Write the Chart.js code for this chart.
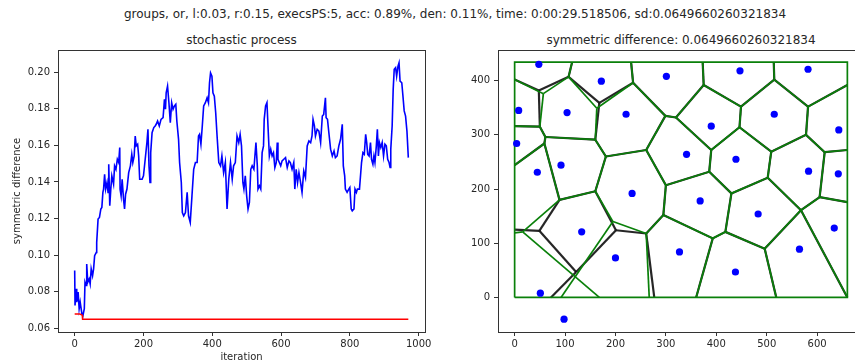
<!DOCTYPE html>
<html>
<head>
<meta charset="utf-8">
<script src="https://cdn.jsdelivr.net/npm/chart.js@4.4.1/dist/chart.umd.min.js"></script>
<style>
  html, body { margin: 0; padding: 0; background: #fff; width: 855px; height: 363px; overflow: hidden; }
  body { position: relative; font-family: "DejaVu Sans", sans-serif; color: #262626; }
  .txt { position: absolute; white-space: nowrap; font-size: 12px; text-align: center; line-height: 14px; }
  canvas { position: absolute; top: 0; }
</style>
</head>
<body>
<div class="txt" style="left:0;width:910px;top:7px;">groups, or, l:0.03, r:0.15, execsPS:5, acc: 0.89%, den: 0.11%, time: 0:00:29.518506, sd:0.0649660260321834</div>
<div class="txt" style="left:0;width:483px;top:33px;">stochastic process</div>
<div class="txt" style="left:498px;width:366px;top:33px;">symmetric difference: 0.0649660260321834</div>
<canvas id="process" width="440" height="363" style="left:0"></canvas>
<canvas id="cells" width="440" height="363" style="left:440px"></canvas>
<script>
// ---- left panel: stochastic process ----
const iterations = [0,1,4,6,10,13,16,21,24,28,30,33,35,38,42,45,48,52,55,58,63,64,68,72,76,79,82,84,87,90,94,97,99,102,105,108,113,116,120,124,128,131,132,135,138,142,145,148,152,157,162,166,169,173,176,179,183,186,189,196,200,205,210,213,216,219,221,225,230,234,237,241,246,251,257,261,264,266,270,274,278,282,286,290,294,297,302,305,310,313,317,322,327,331,336,341,346,351,356,360,363,367,371,375,380,385,389,392,395,399,402,406,410,414,419,424,428,433,438,443,448,453,458,462,467,
  472,477,481,485,489,492,496,500,504,508,512,516,521,524,527,531,533,537,541,545,549,551,555,559,562,566,570,574,578,582,586,589,591,595,599,603,608,613,618,623,627,632,637,640,644,648,652,656,661,666,671,676,681,686,690,693,697,700,705,710,715,720,724,729,731,735,739,744,749,754,758,763,768,773,778,781,785,787,792,797,800,804,807,812,815,819,822,828,834,838,842,846,849,852,856,860,863,867,870,873,877,880,883,886,890,894,898,902,906,910,914,917,919,923,926,929,933,936,940,943,946,951,954,958,962,966,970];
const sdValues = [0.0916,0.0725,0.0816,0.0743,0.0798,0.0707,0.0743,0.0679,0.0670,0.0707,0.0852,0.0834,0.0952,0.0852,0.0870,0.0843,0.0925,0.0888,0.0925,0.0997,0.1015,0.1070,0.1197,0.1206,0.1252,0.1261,0.1343,0.1361,0.1442,0.1361,0.1397,0.1343,0.1497,0.1270,0.1361,0.1433,0.1388,0.1488,0.1469,0.1524,0.1506,0.1588,0.1361,0.1324,0.1415,0.1306,0.1252,0.1333,0.1361,0.1451,0.1488,0.1551,0.1506,0.1542,0.1651,0.1597,0.1606,0.1542,0.1415,0.1415,0.1433,0.1524,0.1615,0.1688,0.1488,0.1397,0.1560,0.1669,0.1697,0.1706,0.1715,0.1733,0.1706,0.1742,0.1751,0.1851,0.1797,0.1887,0.1924,0.1833,0.1724,0.1833,0.1797,0.1815,0.1824,0.1733,0.1633,0.1506,0.1397,0.1233,0.1215,0.1233,0.1343,0.1215,0.1179,0.1324,0.1469,0.1506,0.1506,0.1651,0.1660,0.1606,0.1706,0.1815,0.1833,0.1860,0.1833,0.1942,0.1996,0.1978,0.1887,0.1869,0.1778,0.1651,0.1506,0.1488,0.1542,0.1451,0.1506,0.1252,0.1415,0.1506,0.1415,0.1488,0.1506,
  0.1651,0.1615,0.1660,0.1597,0.1397,0.1361,0.1433,0.1324,0.1252,0.1288,0.1469,0.1488,0.1469,0.1542,0.1615,0.1488,0.1361,0.1379,0.1361,0.1560,0.1597,0.1742,0.1815,0.1833,0.1706,0.1542,0.1579,0.1542,0.1560,0.1479,0.1506,0.1615,0.1524,0.1506,0.1488,0.1515,0.1524,0.1533,0.1479,0.1515,0.1506,0.1469,0.1506,0.1361,0.1469,0.1397,0.1451,0.1406,0.1343,0.1460,0.1424,0.1597,0.1624,0.1615,0.1651,0.1742,0.1706,0.1651,0.1688,0.1678,0.1615,0.1760,0.1769,0.1860,0.1751,0.1742,0.1669,0.1579,0.1542,0.1569,0.1533,0.1542,0.1597,0.1633,0.1715,0.1488,0.1433,0.1361,0.1343,0.1361,0.1370,0.1252,0.1242,0.1252,0.1361,0.1343,0.1361,0.1361,0.1506,0.1560,0.1551,0.1660,0.1615,0.1551,0.1542,0.1615,0.1524,0.1497,0.1542,0.1506,0.1597,0.1688,0.1542,0.1615,0.1588,0.1615,0.1542,0.1606,0.1597,0.1524,0.1506,0.1479,0.1579,0.1706,0.1906,0.2015,0.2024,0.1978,0.2033,0.2051,0.1951,0.1942,0.1878,0.1788,0.1760,0.1678,0.1533];
const bestIterations = [0, 15, 22, 23, 970];
const bestValues = [0.0678, 0.0678, 0.0672, 0.0650, 0.0650];
const processXTicks = [0, 200, 400, 600, 800, 1000];
const processYTicks = [0.06, 0.08, 0.10, 0.12, 0.14, 0.16, 0.18, 0.20];

// ---- right panel: cells ----
const siteX = [48,172,8,104,221,4,92,45,233,301,447,582,515,390,643,341,439,583,642,368,483,634,327,565,438,133,200,51,98];
const siteY = [430,399,345,341,338,284,244,231,192,408,418,421,338,316,309,264,255,233,228,178,154,128,84,89,47,121,73,8,-40];
const boxX = [0, 660, 660, 0, 0];
const boxY = [0, 0, 434, 434, 0];
// segments [x1, y1, x2, y2] shared by both diagrams
const sharedEdges = [
  [114,434,107,407],[0,316,50,315],[50,315,61,296],[61,296,59,284],[59,284,0,244],[59,284,89,180],
  [61,296,160,291],[160,291,181,260],[181,260,160,196],[160,196,89,180],[181,260,261,272],
  [231,434,235,396],[235,396,299,335],[299,335,320,332],[375,392,320,332],[373,434,375,392],
  [299,335,261,272],[320,332,390,272],[375,392,449,352],[449,352,515,402],[514,434,515,402],
  [515,402,582,352],[582,352,660,392],[582,352,578,300],[578,300,615,268],[615,268,660,272],
  [449,352,446,314],[446,314,390,272],[446,314,509,269],[509,269,578,300],[390,272,386,232],
  [386,232,300,207],[300,207,261,272],[509,269,502,221],[386,232,430,192],[430,192,502,221],
  [615,268,605,185],[605,185,660,176],[605,185,568,161],[502,221,568,161],[568,161,660,0],
  [568,161,496,90],[496,90,418,121],[418,121,430,192],[418,121,393,109],[393,109,295,152],
  [295,152,300,207],[496,90,519,0],[393,109,360,0],[295,152,261,118]
];
const greenEdges = [
  [0,402,57,376],[107,407,57,376],[57,376,50,315],[107,407,163,349],[163,349,160,291],[163,349,235,396],
  [261,118,267,0],[261,118,195,140],[195,140,160,196],[89,180,16,121],[16,121,0,119],[16,121,168,0],[92,0,195,140]
];
const blackEdges = [
  [0,402,48,382],[107,407,48,382],[48,382,50,315],[107,407,168,359],[168,359,160,291],[168,359,235,396],
  [261,118,277,0],[261,118,201,124],[201,124,160,196],[89,180,49,123],[49,123,0,125],[49,123,122,47],
  [72,0,122,47],[122,47,201,124]
];
const cellXTicks = [0, 100, 200, 300, 400, 500, 600];
const cellYTicks = [0, 100, 200, 300, 400];

Chart.defaults.font.family = "DejaVu Sans";
Chart.defaults.font.size = 10;
Chart.defaults.color = "#262626";

const frame = {
  id: "frame",
  afterDatasetsDraw(chart) {
    const a = chart.chartArea, ctx = chart.ctx;
    ctx.save();
    ctx.strokeStyle = "#333";
    ctx.lineWidth = 1;
    ctx.strokeRect(Math.round(a.left) + 0.5, Math.round(a.top) + 0.5, Math.round(a.right - a.left), Math.round(a.bottom - a.top));
    ctx.restore();
  }
};

function axis(min, max, ticks, fmt, fixed, horizontal, title, titlePad) {
  return {
    type: "linear", min, max,
    border: { display: false },
    grid: { drawOnChartArea: false, drawTicks: true, tickLength: 4, tickColor: "#333" },
    ticks: { autoSkip: false, maxRotation: 0, padding: horizontal ? 2 : 4, callback: fmt },
    afterBuildTicks: s => { s.ticks = ticks.map(v => ({ value: v })); },
    afterFit: s => { if (horizontal) s.height = fixed; else s.width = fixed; },
    title: title ? { display: true, text: title, padding: titlePad, font: { size: 10 } } : { display: false }
  };
}

const toPts = (xs, ys) => xs.map((x, i) => ({ x, y: ys[i] }));
const segSet = (e, color, width) => ({
  data: [{ x: e[0], y: e[1] }, { x: e[2], y: e[3] }],
  showLine: true, borderColor: color, borderWidth: width, pointRadius: 0, tension: 0
});

new Chart(document.getElementById("process"), {
  type: "scatter",
  data: {
    datasets: [
      { data: toPts(bestIterations, bestValues), showLine: true, borderColor: "#ff0000", borderWidth: 1.5, pointRadius: 0 },
      { data: toPts(iterations, sdValues), showLine: true, borderColor: "#0000ff", borderWidth: 1.6, pointRadius: 0 }
    ]
  },
  options: {
    responsive: false, animation: false, devicePixelRatio: 1,
    layout: { padding: { top: 50, right: 15, left: 0, bottom: 0 } },
    plugins: { legend: { display: false }, tooltip: { enabled: false } },
    scales: {
      x: axis(-48.5, 1018.5, processXTicks, v => String(v), 31, true, "iteration", { top: 0, bottom: 0 }),
      y: axis(0.0580, 0.2121, processYTicks, v => v.toFixed(2), 58, false, "symmetric difference", { top: 11, bottom: 0 })
    }
  },
  plugins: [frame]
});

const cellSets = [
  { data: toPts(siteX, siteY), showLine: false, pointRadius: 3.6, pointBackgroundColor: "#0000ff", pointBorderWidth: 0 }
];
sharedEdges.concat(greenEdges).forEach(e => cellSets.push(segSet(e, "#0a800a", 1.7)));
cellSets.push({ data: toPts(boxX, boxY), showLine: true, borderColor: "#0a800a", borderWidth: 1.7, pointRadius: 0 });
sharedEdges.concat(blackEdges).forEach(e => cellSets.push(segSet(e, "rgba(0,0,0,0.85)", 2.2)));

new Chart(document.getElementById("cells"), {
  type: "scatter",
  data: { datasets: cellSets },
  options: {
    responsive: false, animation: false, devicePixelRatio: 1,
    layout: { padding: { top: 50, right: 16, left: 0, bottom: 0 } },
    plugins: { legend: { display: false }, tooltip: { enabled: false } },
    scales: {
      x: axis(-33, 693, cellXTicks, v => String(v), 31, true, null),
      y: axis(-63.7, 456.5, cellYTicks, v => String(v), 58, false, null)
    }
  },
  plugins: [frame]
});
</script>
</body>
</html>
